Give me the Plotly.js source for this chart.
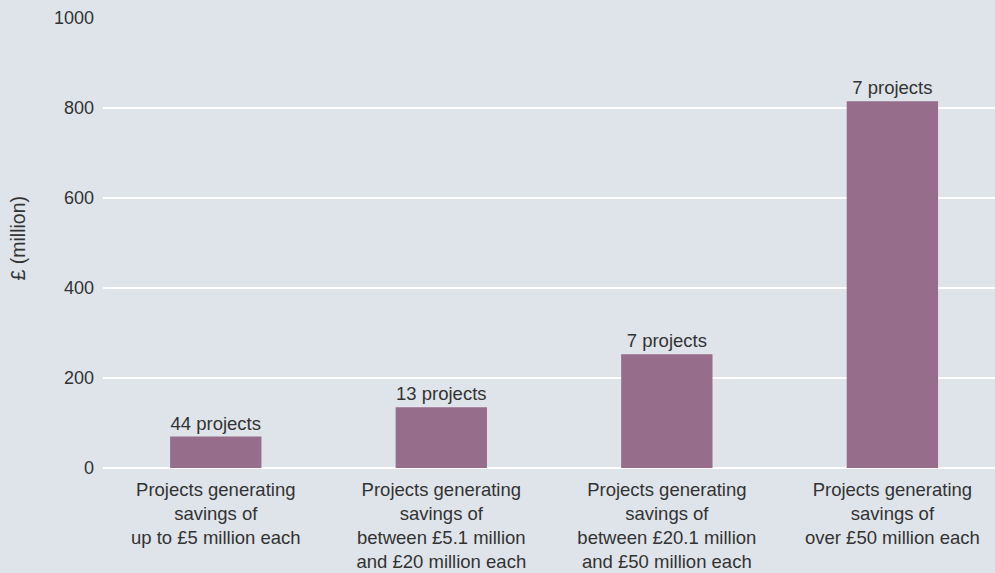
<!DOCTYPE html>
<html>
<head>
<meta charset="utf-8">
<script src="https://cdn.plot.ly/plotly-3.0.1.min.js"></script>
<style>html,body{margin:0;padding:0;background:#dee4ea;}#chart{width:995px;height:573px;}</style>
</head>
<body>
<div id="chart"></div>
<script>
var categories = [
  "Projects generating<br>savings of<br>up to £5 million each",
  "Projects generating<br>savings of<br>between £5.1 million<br>and £20 million each",
  "Projects generating<br>savings of<br>between £20.1 million<br>and £50 million each",
  "Projects generating<br>savings of<br>over £50 million each"
];
var savings = [70, 135, 253, 815];
var barLabels = ["44 projects", "13 projects", "7 projects", "7 projects"];
var yTicks = [0, 200, 400, 600, 800, 1000];
var yTitle = "£ (million)";

var fontFam = "Liberation Sans, Arial, sans-serif";
var txtColor = "#333333";
var trace = {
  type: "bar",
  x: categories,
  y: savings,
  text: barLabels,
  textposition: "outside",
  outsidetextfont: {family: fontFam, size: 18.5, color: txtColor},
  cliponaxis: false,
  marker: {color: "#966e8b"},
  hoverinfo: "none"
};
var layout = {
  width: 995, height: 573,
  margin: {l: 103, r: 0, t: 18, b: 105},
  paper_bgcolor: "#dee4ea",
  plot_bgcolor: "#dee4ea",
  bargap: 0.595,
  showlegend: false,
  font: {family: fontFam, size: 18, color: txtColor},
  xaxis: {
    type: "category",
    range: [-0.5, 3.455],
    showgrid: false, zeroline: false, showline: false,
    ticks: "",
    ticklabelstandoff: 8,
    tickfont: {family: fontFam, size: 18.5, color: txtColor},
    automargin: false
  },
  yaxis: {
    range: [0, 1000],
    tickvals: yTicks,
    ticktext: yTicks.map(String),
    showgrid: true, gridcolor: "#ffffff", gridwidth: 2,
    zeroline: true, zerolinecolor: "#ffffff", zerolinewidth: 2,
    showline: false, ticks: "",
    ticklabelstandoff: 8,
    tickfont: {family: fontFam, size: 18, color: txtColor},
    automargin: false
  },
  annotations: [{
    text: yTitle,
    xref: "paper", yref: "paper",
    x: (17 - 103) / 892, y: 0.51,
    xanchor: "center", yanchor: "middle",
    textangle: -90,
    showarrow: false,
    font: {family: fontFam, size: 19.5, color: txtColor}
  }]
};
Plotly.newPlot("chart", [trace], layout, {displayModeBar: false, staticPlot: true});
</script>
</body>
</html>
